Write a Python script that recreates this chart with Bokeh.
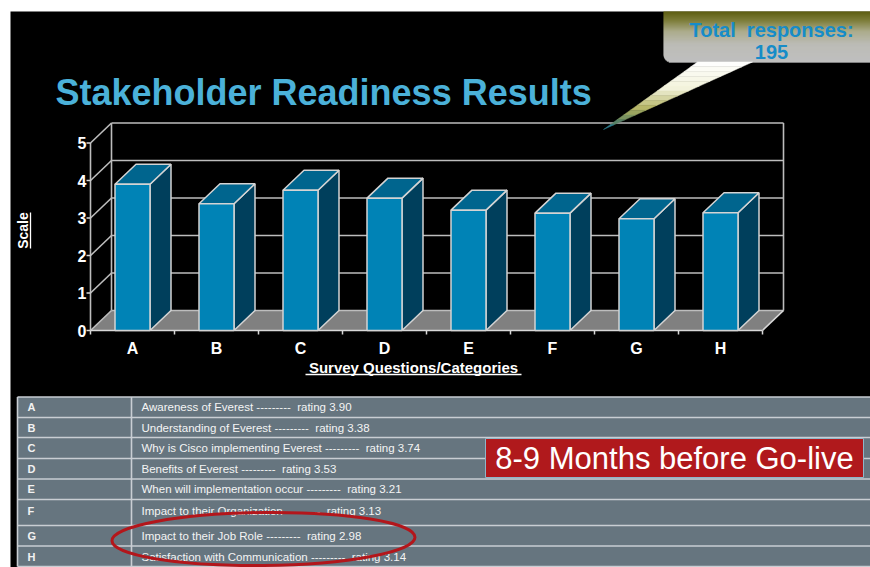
import math
from bokeh.plotting import figure
from bokeh.models import Range1d
from bokeh.core.properties import value
from bokeh.embed import file_html
from bokeh.resources import INLINE

# ---------------- data ----------------
categories = ["A", "B", "C", "D", "E", "F", "G", "H"]
ratings = [3.90, 3.38, 3.74, 3.53, 3.21, 3.13, 2.98, 3.14]
descriptions = [
    "Awareness of Everest",
    "Understanding of Everest",
    "Why is Cisco implementing Everest",
    "Benefits of Everest",
    "When will implementation occur",
    "Impact to their Organization",
    "Impact to their Job Role",
    "Satisfaction with Communication",
]
y_ticks = [0, 1, 2, 3, 4, 5]
title_text = "Stakeholder Readiness Results"
x_title = "Survey Questions/Categories"
y_title = "Scale"
callout_lines = ["Total\u00a0 responses:", "195"]
badge_text = "8-9 Months before Go-live"

# ---------------- layout helpers (page pixel -> data) ----------------
PX_PER_CAT = 84.0
PX_PER_UNIT = 37.5
X0_PX = 90.0
Y0_PX = 330.0
W, H = 870, 567


def X(px):
    return (px - X0_PX) / PX_PER_CAT


def Y(py):
    return (Y0_PX - py) / PX_PER_UNIT


DX = 21 / PX_PER_CAT      # 3D depth offset in x
DY = 20 / PX_PER_UNIT     # 3D depth offset in y
BW = 35 / PX_PER_CAT      # bar width
n = len(categories)
vmax = max(y_ticks)

FONT = value("Liberation Sans")
GRID = "#bdbdbd"

p = figure(width=W, height=H,
           x_range=Range1d(X(0), X(W)), y_range=Range1d(Y(H), Y(0)),
           output_backend="svg", toolbar_location=None, min_border=0,
           x_axis_location=None, y_axis_location=None,
           background_fill_color="white", border_fill_color="white",
           outline_line_color=None)
p.grid.visible = False

# black slide background
p.quad(left=X(10), right=X(W), bottom=Y(H), top=Y(11),
       fill_color="black", line_color=None)

# ---------------- 3D frame ----------------
p.patch([0, n, n + DX, DX], [0, 0, DY, DY], fill_color="#808080", line_color=None)
p.segment(x0=[DX] * len(y_ticks), y0=[v + DY for v in y_ticks],
          x1=[n + DX] * len(y_ticks), y1=[v + DY for v in y_ticks],
          line_color=GRID, line_width=1.6)
p.segment(x0=[0] * len(y_ticks), y0=y_ticks, x1=[DX] * len(y_ticks),
          y1=[v + DY for v in y_ticks], line_color=GRID, line_width=1.6)
p.segment(x0=[DX, n + DX, 0], y0=[DY, DY, 0], x1=[DX, n + DX, 0],
          y1=[vmax + DY, vmax + DY, vmax], line_color=GRID, line_width=1.6)
p.segment(x0=[0, n], y0=[0, 0], x1=[n, n + DX], y1=[0, DY],
          line_color="#d8d8d8", line_width=1.6)
p.segment(x0=[-4 / PX_PER_CAT] * len(y_ticks), y0=y_ticks, x1=[0] * len(y_ticks),
          y1=y_ticks, line_color="#d8d8d8", line_width=1.5)
p.segment(x0=list(range(n + 1)), y0=[0] * (n + 1), x1=list(range(n + 1)),
          y1=[-4 / PX_PER_UNIT] * (n + 1), line_color="#d8d8d8", line_width=1.5)

# ---------------- bars ----------------
EDGE = "#d4d4d4"
lefts = [i + 0.5 - BW / 2 for i in range(n)]
rights = [i + 0.5 + BW / 2 for i in range(n)]
side_xs = [[r, r + DX, r + DX, r] for r in rights]
side_ys = [[0, DY, v + DY, v] for v in ratings]
top_xs = [[l, r, r + DX, l + DX] for l, r in zip(lefts, rights)]
top_ys = [[v, v, v + DY, v + DY] for v in ratings]
p.patches(side_xs, side_ys, fill_color="#003F5C", line_color=EDGE, line_width=1.5)
p.patches(top_xs, top_ys, fill_color="#00658E", line_color=EDGE, line_width=1.5)
p.quad(left=lefts, right=rights, bottom=[0] * n, top=ratings,
       fill_color="#0083B6", line_color=EDGE, line_width=1.5)

# ---------------- axis texts ----------------
p.text(x=[0] * len(y_ticks), y=y_ticks, text=[str(v) for v in y_ticks],
       x_offset=-4, text_font=FONT, text_font_size="16px", text_font_style="bold",
       text_color="white", text_align="right", text_baseline="middle")
p.text(x=[i + 0.5 for i in range(n)], y=[Y(348)] * n, text=categories,
       text_font=FONT, text_font_size="16px", text_font_style="bold",
       text_color="white", text_align="center", text_baseline="middle")
p.text(x=[X(413)], y=[Y(367)], text=[x_title], text_font=FONT,
       text_font_size="15px", text_font_style="bold", text_color="white",
       text_align="center", text_baseline="middle")
p.segment(x0=[X(305)], y0=[Y(374)], x1=[X(521)], y1=[Y(374)],
          line_color="white", line_width=1.3)
p.text(x=[X(22.5)], y=[Y(230)], text=[y_title], angle=math.pi / 2, text_font=FONT,
       text_font_size="14px", text_font_style="bold", text_color="white",
       text_align="center", text_baseline="middle")
p.segment(x0=[X(30)], y0=[Y(212)], x1=[X(30)], y1=[Y(248)],
          line_color="white", line_width=1.3)

# ---------------- title ----------------
p.text(x=[X(55)], y=[Y(92)], text=[title_text], text_font=FONT,
       text_font_size="36px", text_font_style="bold", text_color="#4BB1D9",
       text_align="left", text_baseline="middle")


# ---------------- callout ----------------
def lerp_color(stops, t):
    for (t0, c0), (t1, c1) in zip(stops, stops[1:]):
        if t0 <= t <= t1:
            f = 0 if t1 == t0 else (t - t0) / (t1 - t0)
            c = [round(a + (b - a) * f) for a, b in zip(c0, c1)]
            return "#%02x%02x%02x" % tuple(c)
    c = stops[-1][1]
    return "#%02x%02x%02x" % tuple(c)


box_stops = [(11, (122, 122, 22)), (20, (165, 165, 75)), (31, (228, 228, 185)),
             (44, (250, 250, 242)), (62, (255, 255, 255))]
r = 8.0
bl, bt, bb = 663.0, 11.0, 62.0
strip_l, strip_r, strip_t, strip_b, strip_c = [], [], [], [], []
py = bt
while py < bb:
    ny = py + 1
    mid = py + 0.5
    left = bl
    if mid > bb - r:
        d = mid - (bb - r)
        left = bl + r - math.sqrt(max(r * r - d * d, 0))
    strip_l.append(X(left)); strip_r.append(X(W))
    strip_t.append(Y(py)); strip_b.append(Y(ny))
    strip_c.append(lerp_color(box_stops, mid))
    py = ny
p.quad(left=strip_l, right=strip_r, top=strip_t, bottom=strip_b,
       fill_color=strip_c, line_color=None)

base_a, base_b, tip = (697.0, 61.5), (752.0, 61.5), (603.0, 129.0)
ptr_stops = [(0, (255, 255, 255)), (0.4, (242, 242, 218)), (0.7, (178, 178, 96)),
             (0.88, (95, 130, 95)), (1.0, (25, 125, 165))]
segs = 14
pxs, pys, pcs = [], [], []
for k in range(segs):
    t0, t1 = k / segs, (k + 1) / segs
    a0 = (base_a[0] + (tip[0] - base_a[0]) * t0, base_a[1] + (tip[1] - base_a[1]) * t0)
    a1 = (base_a[0] + (tip[0] - base_a[0]) * t1, base_a[1] + (tip[1] - base_a[1]) * t1)
    b0 = (base_b[0] + (tip[0] - base_b[0]) * t0, base_b[1] + (tip[1] - base_b[1]) * t0)
    b1 = (base_b[0] + (tip[0] - base_b[0]) * t1, base_b[1] + (tip[1] - base_b[1]) * t1)
    pxs.append([X(a0[0]), X(b0[0]), X(b1[0]), X(a1[0])])
    pys.append([Y(a0[1]), Y(b0[1]), Y(b1[1]), Y(a1[1])])
    pcs.append(lerp_color(ptr_stops, (t0 + t1) / 2))
p.patches(pxs, pys, fill_color=pcs, line_color=pcs, line_width=0.5)

p.text(x=[X(771), X(771)], y=[Y(29), Y(51)], text=callout_lines, text_font=FONT,
       text_font_size="20px", text_font_style="bold", text_color="#168CC8",
       text_align="center", text_baseline="middle")

# ---------------- table ----------------
row_edges = [396.5, 417, 437, 458, 478.5, 499, 525, 545.5, 566]
row_text_y = [406.5, 427, 447.5, 468, 488.5, 510, 535.5, 556]
p.quad(left=X(17), right=X(W), top=Y(row_edges[0]), bottom=Y(row_edges[-1]),
       fill_color="#66757F", line_color=None)
p.segment(x0=[X(17)] * len(row_edges), y0=[Y(v) for v in row_edges],
          x1=[X(W)] * len(row_edges), y1=[Y(v) for v in row_edges],
          line_color="#c9ced3", line_width=1.6)
p.segment(x0=[X(17), X(131)], y0=[Y(row_edges[0])] * 2, x1=[X(17), X(131)],
          y1=[Y(row_edges[-1])] * 2, line_color="#c9ced3", line_width=1.6)
p.text(x=[X(27)] * n, y=[Y(v) for v in row_text_y], text=categories, text_font=FONT,
       text_font_size="11px", text_font_style="bold", text_color="#f2f2f2",
       text_align="left", text_baseline="middle")
row_labels = [f"{d} ---------\u00a0 rating {v:.2f}" for d, v in zip(descriptions, ratings)]
p.text(x=[X(141)] * n, y=[Y(v) for v in row_text_y], text=row_labels, text_font=FONT,
       text_font_size="11.5px", text_color="#f4f4f4",
       text_align="left", text_baseline="middle")

# badge
p.quad(left=X(485), right=X(863), top=Y(438), bottom=Y(477),
       fill_color="#B0191C", line_color="#8fb6c8", line_width=1)
p.text(x=[X(674)], y=[Y(458)], text=[badge_text], text_font=FONT,
       text_font_size="31px", text_color="white", text_align="center",
       text_baseline="middle")

# highlight ellipse
p.ellipse(x=[X(263)], y=[Y(538.5)], width=[303], height=[53],
          width_units="screen", height_units="screen", angle=0.012,
          fill_color=None, line_color="#B3161B", line_width=3)

open("out.html", "w").write(file_html(p, INLINE))
